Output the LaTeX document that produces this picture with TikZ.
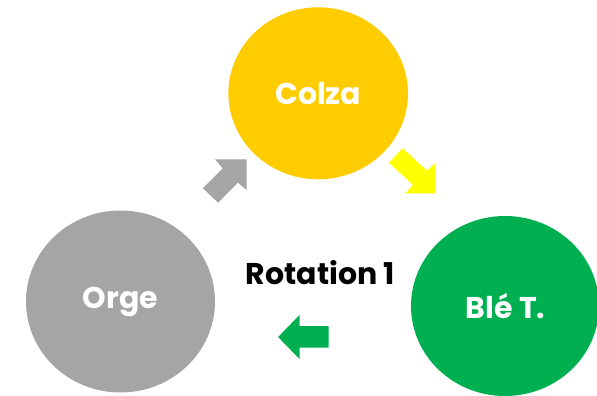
\documentclass[tikz,border=0pt]{standalone}
\usepackage{fontspec}
\setmainfont{Poppins}
\definecolor{cyellow}{HTML}{FFCC00}
\definecolor{cgray}{HTML}{A5A5A5}
\definecolor{cgreen}{HTML}{00B050}
\definecolor{ayellow}{HTML}{FFFF00}
\tikzset{
  crop/.style={font=\fontsize{30}{36}\selectfont\bfseries, text=white},
  blockarrow/.style={draw=none}
}
\begin{document}
\begin{tikzpicture}[x=1pt,y=-1pt]
\useasboundingbox (0,0) rectangle (597,396);
\clip (0,0) rectangle (597,396);
% circles
\fill[cyellow] (318.2,93.3) ellipse [x radius=89.8, y radius=86];
\fill[cgray] (120.5,301.5) ellipse [x radius=94.5, y radius=91];
\fill[cgreen] (505,306) ellipse [x radius=94, y radius=90];
\node[crop] (colza) at (318.2,93.3) {Colza};
\node[crop] (orge) at (120.5,301.5) {Orge};
\node[crop] (ble) at (505.5,306) {Blé T.};
\node[font=\fontsize{30}{36}\selectfont\bfseries, text=black] (rot) at (320.5,272.5) {Rotation 1};
% block arrows
\fill[cgray, blockarrow] (246.7,159.3) -- (215,159.3) -- (222.7,168.3) -- (202.9,188.3) -- (218.1,202.7) -- (237.9,182.7) -- (246.7,190) -- cycle;
\fill[ayellow, blockarrow] (435.1,193.3) -- (405.4,193.3) -- (413,185) -- (389,162.7) -- (402.7,148.3) -- (427.1,170.7) -- (435.1,163.3) -- cycle;
\fill[cgreen, blockarrow] (278.1,337) -- (299.5,315) -- (299.5,326) -- (328.7,326) -- (328.7,347.5) -- (299.5,347.5) -- (299.5,359) -- cycle;
\end{tikzpicture}
\end{document}
